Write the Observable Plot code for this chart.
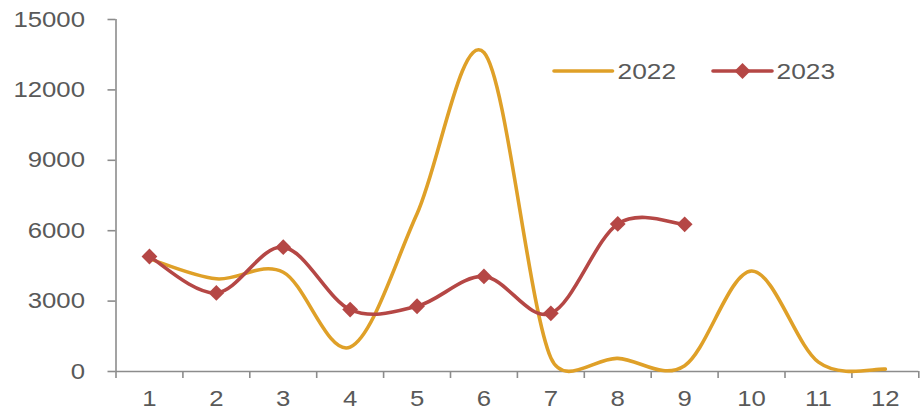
<!DOCTYPE html>
<html>
<head>
<meta charset="utf-8">
<script src="https://cdn.jsdelivr.net/npm/d3@7"></script>
<script src="https://cdn.jsdelivr.net/npm/@observablehq/plot@0.6"></script>
<style>
  html, body { margin: 0; padding: 0; background: #fff; }
  #wrap { position: relative; width: 921px; height: 414px; }
  #legend { position: absolute; left: 0; top: 0; width: 921px; height: 414px; pointer-events: none; }
</style>
</head>
<body>
<div id="wrap"></div>
<script>
const months = [1, 2, 3, 4, 5, 6, 7, 8, 9, 10, 11, 12];
const values2022 = [4800, 3950, 4230, 1040, 6720, 13590, 580, 560, 250, 4280, 400, 100];
const months2023 = [1, 2, 3, 4, 5, 6, 7, 8, 9];
const values2023 = [4900, 3350, 5300, 2640, 2780, 4050, 2480, 6290, 6270];
const yTicks = [0, 3000, 6000, 9000, 12000, 15000];
const seriesNames = ["2022", "2023"];
const colors = ["#DFA028", "#B54745"];

const d2022 = months.map((m, i) => ({month: m, value: values2022[i]}));
const d2023 = months2023.map((m, i) => ({month: m, value: values2023[i]}));
const boundaries = d3.range(0.5, 13, 1);

const font = "'Liberation Sans', Arial, sans-serif";
const axisColor = "#8C8C8C";
const textColor = "#595959";
const stretch = 1.17;

// Spreadsheet-style smoothed line: Bezier segments with control arms of 1/6
// of the neighbour chord, limited to half the segment length.
function smoothCurve(context) {
  let pts = [];
  const dist = (a, b) => Math.hypot(b[0] - a[0], b[1] - a[1]);
  return {
    areaStart() {}, areaEnd() {},
    lineStart() { pts = []; },
    point(x, y) { pts.push([+x, +y]); },
    lineEnd() {
      const n = pts.length;
      if (!n) return;
      context.moveTo(pts[0][0], pts[0][1]);
      for (let i = 0; i < n - 1; i++) {
        const p0 = pts[Math.max(i - 1, 0)], p1 = pts[i], p2 = pts[i + 1], p3 = pts[Math.min(i + 2, n - 1)];
        const d12 = dist(p1, p2), d02 = dist(p0, p2), d13 = dist(p1, p3);
        let f1 = 1 / 6, f2 = 1 / 6;
        if (d02 / 6 > d12 / 2) f1 = d12 / (2 * d02);
        if (d13 / 6 > d12 / 2) f2 = d12 / (2 * d13);
        context.bezierCurveTo(
          p1[0] + f1 * (p2[0] - p0[0]), p1[1] + f1 * (p2[1] - p0[1]),
          p2[0] - f2 * (p3[0] - p1[0]), p2[1] - f2 * (p3[1] - p1[1]),
          p2[0], p2[1]
        );
      }
    }
  };
}

const chart = Plot.plot({
  width: 921,
  height: 414,
  marginLeft: 115.5,
  marginRight: 2.7,
  marginTop: 19,
  marginBottom: 43,
  style: {fontFamily: font, fontSize: "22px", color: textColor, background: "#fff"},
  x: {type: "linear", domain: [0.5, 12.5]},
  y: {domain: [0, 15000]},
  marks: [
    Plot.ruleX([0.5], {y1: 0, y2: 15000, stroke: axisColor, strokeWidth: 1.6}),
    Plot.ruleY([0], {stroke: axisColor, strokeWidth: 1.6}),
    Plot.axisY({ticks: yTicks, tickSize: 8, tickPadding: 23, stroke: axisColor, strokeWidth: 1.6, tickFormat: d => String(d), fill: textColor, fontSize: 22, label: null}),
    Plot.axisX({ticks: boundaries, tickSize: 7, tickFormat: () => "", stroke: axisColor, strokeWidth: 1.6, label: null}),
    Plot.axisX({ticks: months, tickSize: 0, tickPadding: 19, tickFormat: d => String(d), fill: textColor, fontSize: 22, label: null}),
    Plot.line(d2022, {x: "month", y: "value", stroke: colors[0], strokeWidth: 3.6, curve: smoothCurve}),
    Plot.line(d2023, {x: "month", y: "value", stroke: colors[1], strokeWidth: 3.6, curve: smoothCurve}),
    Plot.dot(d2023, {x: "month", y: "value", symbol: "square", r: 6.3, rotate: 45, fill: colors[1], stroke: "none"})
  ]
});

// widen tick-label glyphs to match the reference's broad digits
chart.querySelectorAll("text").forEach(t => {
  const tr = t.getAttribute("transform") || "";
  t.setAttribute("transform", tr + ` scale(${stretch},1)`);
});

const wrap = document.getElementById("wrap");
wrap.appendChild(chart);

// Legend overlay
const ns = "http://www.w3.org/2000/svg";
const lg = document.createElementNS(ns, "svg");
lg.setAttribute("id", "legend");
lg.setAttribute("width", 921);
lg.setAttribute("height", 414);
const items = [
  {name: seriesNames[0], color: colors[0], x1: 554, x2: 612.5, tx: 617.5, marker: false},
  {name: seriesNames[1], color: colors[1], x1: 713, x2: 772, tx: 776.5, marker: true}
];
for (const it of items) {
  const line = document.createElementNS(ns, "line");
  line.setAttribute("x1", it.x1); line.setAttribute("x2", it.x2);
  line.setAttribute("y1", 71); line.setAttribute("y2", 71);
  line.setAttribute("stroke", it.color); line.setAttribute("stroke-width", 3.6);
  line.setAttribute("stroke-linecap", "round");
  lg.appendChild(line);
  if (it.marker) {
    const cx = (it.x1 + it.x2) / 2, s = 8;
    const p = document.createElementNS(ns, "path");
    p.setAttribute("d", `M${cx},${71 - s}L${cx + s},71L${cx},${71 + s}L${cx - s},71Z`);
    p.setAttribute("fill", it.color);
    lg.appendChild(p);
  }
  const t = document.createElementNS(ns, "text");
  t.setAttribute("transform", `translate(${it.tx},79) scale(${stretch},1)`);
  t.setAttribute("fill", textColor);
  t.setAttribute("font-family", font);
  t.setAttribute("font-size", 22.5);
  t.textContent = it.name;
  lg.appendChild(t);
}
wrap.appendChild(lg);
</script>
</body>
</html>
